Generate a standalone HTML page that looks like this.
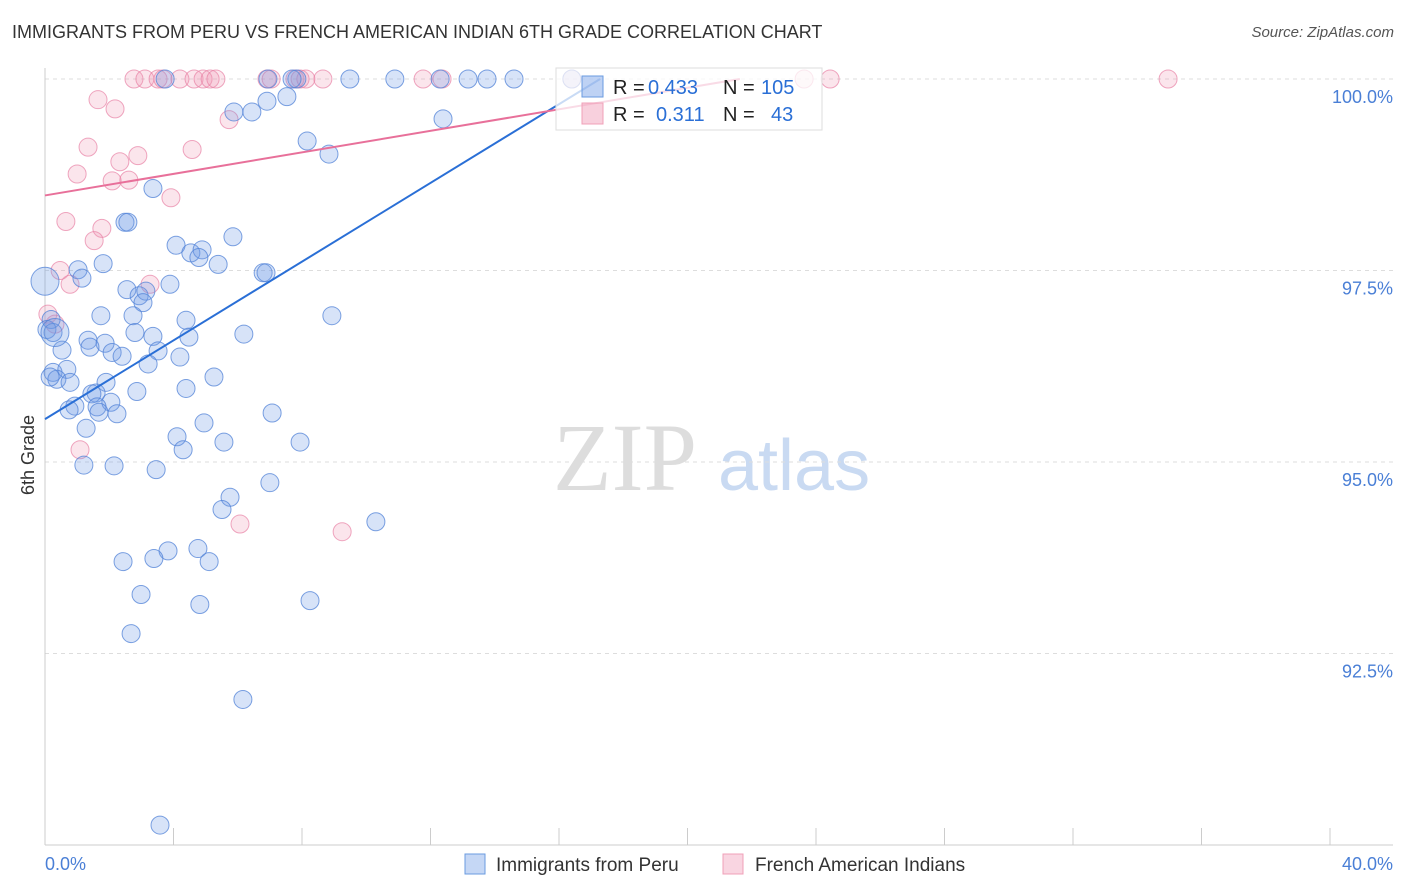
<!DOCTYPE html>
<html><head><meta charset="utf-8">
<style>
body{margin:0;background:#fff;font-family:"Liberation Sans",sans-serif;}
#wrap{position:relative;width:1406px;height:892px;overflow:hidden;}
.t{position:absolute;white-space:nowrap;}
</style></head>
<body>
<div id="wrap">
<div class="t" style="left:12px;top:22px;font-size:18px;color:#333;">IMMIGRANTS FROM PERU VS FRENCH AMERICAN INDIAN 6TH GRADE CORRELATION CHART</div>
<div class="t" style="right:12px;top:24px;font-size:15px;color:#555;font-style:italic;">Source: ZipAtlas.com</div>
<svg id="chart" width="1406" height="892" style="position:absolute;left:0;top:0"></svg>
</div>
<script>
const yTicks=[100,97.5,95,92.5];
const yTickLabels=["100.0%","97.5%","95.0%","92.5%"];
const xEndLabels=["0.0%","40.0%"];
const blueX=[3.74,6.94,7.84,7.69,9.49,10.89,12.30,13.17,13.76,14.60,16.40,5.88,6.44,6.91,7.53,12.39,8.16,8.84,3.36,2.49,2.58,5.85,4.08,4.54,4.89,4.79,5.39,6.79,6.88,1.81,1.03,1.15,2.55,2.93,3.14,3.89,3.05,1.74,2.74,4.39,8.93,0.19,0.06,0.25,1.34,1.87,2.80,3.36,4.48,6.19,0.53,1.40,2.09,2.40,3.52,4.20,3.21,0.25,0.68,0.37,0.78,1.90,5.26,4.39,2.86,1.59,1.46,0.93,2.05,1.62,0.75,1.68,2.24,4.95,7.07,1.28,4.11,4.30,5.57,7.94,1.21,2.15,3.46,7.00,5.76,5.51,10.30,3.83,4.76,2.43,3.39,5.11,2.99,4.82,8.25,2.68,6.16,3.58,0.16];
const blueY=[100,100,100,100,100,100,100,100,100,100,100,99.57,99.57,99.71,99.77,99.48,99.19,99.02,98.57,98.13,98.13,97.94,97.83,97.73,97.77,97.67,97.58,97.47,97.47,97.59,97.51,97.40,97.25,97.17,97.23,97.32,97.08,96.91,96.91,96.85,96.91,96.86,96.73,96.69,96.59,96.55,96.69,96.64,96.63,96.67,96.46,96.50,96.43,96.38,96.45,96.37,96.28,96.17,96.21,96.08,96.04,96.04,96.11,95.96,95.92,95.90,95.89,95.73,95.78,95.72,95.68,95.65,95.63,95.51,95.64,95.44,95.33,95.16,95.26,95.26,94.96,94.95,94.90,94.73,94.54,94.38,94.22,93.84,93.87,93.70,93.74,93.70,93.27,93.14,93.19,92.76,91.90,90.26,96.11];
const blueBigX=[0,0.31];
const blueBigY=[97.36,96.69];
const pinkX=[2.77,3.11,3.52,3.67,4.20,4.64,4.92,5.14,5.32,6.91,7.04,7.78,7.94,8.12,8.65,11.77,12.36,16.40,23.63,24.44,34.96,1.65,2.18,5.73,1.34,2.89,4.58,2.33,1.00,2.09,2.61,3.92,0.65,1.77,1.53,0.47,3.27,0.78,0.09,0.31,1.09,6.07,9.25];
const pinkY=[100,100,100,100,100,100,100,100,100,100,100,100,100,100,100,100,100,100,100,100,100,99.73,99.61,99.47,99.11,99.00,99.08,98.92,98.76,98.67,98.68,98.45,98.14,98.05,97.89,97.50,97.32,97.32,96.93,96.80,95.16,94.19,94.09];
const blueLine=[[0,95.56],[17.28,100]];
const pinkLine=[[0,98.48],[21.63,100]];

const svg=document.getElementById('chart');
const NS='http://www.w3.org/2000/svg';
const X0=45,X1=1330,Ytop=79,Ybot=845;
const sx=v=>X0+(v/40)*(X1-X0);
const sy=v=>Ytop+(100-v)/10*(Ybot-Ytop);
function mk(tag,attrs){const e=document.createElementNS(NS,tag);for(const k in attrs)e.setAttribute(k,attrs[k]);svg.appendChild(e);return e;}

// watermark
let w1=mk('text',{x:553,y:490,'font-size':96,fill:'#ddd','font-family':'Liberation Serif, serif'});w1.textContent='ZIP';


let w2=mk('text',{x:718,y:490,'font-size':72,fill:'#c9daf2','font-family':'Liberation Sans, sans-serif'});w2.textContent='atlas';



yTicks.forEach((t,i)=>{
  const g=mk('line',{x1:X0,x2:1393,y1:sy(t),y2:sy(t),stroke:'#ddd','stroke-dasharray':'4,4'});
  
  
  const l=mk('text',{x:1393,y:sy(t)+24,'text-anchor':'end','font-size':18,fill:'#4a7fd6'});
  l.textContent=yTickLabels[i];
  
  
});
let ax=mk('line',{x1:X0,x2:X0,y1:68,y2:Ybot,stroke:'#ccc'});


let bx=mk('line',{x1:X0,x2:1393,y1:Ybot,y2:Ybot,stroke:'#ccc'});


for(let i=0;i<=40;i+=4){
  const tk=mk('line',{x1:sx(i),x2:sx(i),y1:828,y2:Ybot,stroke:'#ccc'});
  
  
}
let xl0=mk('text',{x:45,y:870,'font-size':18,fill:'#4a7fd6'});xl0.textContent=xEndLabels[0];


let xl1=mk('text',{x:1393,y:870,'font-size':18,'text-anchor':'end',fill:'#4a7fd6'});xl1.textContent=xEndLabels[1];


let yt=mk('text',{x:34,y:455,'font-size':18,fill:'#333','text-anchor':'middle',transform:'rotate(-90 34 455)'});yt.textContent='6th Grade';



function pts(xs,ys,r,fill,stroke,name){
  xs.forEach((x,i)=>{
    const c=mk('circle',{cx:sx(x),cy:sy(ys[i]),r:r,fill:fill,stroke:stroke,'stroke-width':1});
    
    
  });
}
pts(pinkX,pinkY,9,'rgba(240,150,180,0.25)','rgba(232,130,165,0.7)','pink-point');
pts(blueX,blueY,9,'rgba(110,155,230,0.28)','rgba(80,130,215,0.75)','blue-point');
pts(blueBigX,blueBigY,14,'rgba(110,155,230,0.3)','rgba(80,130,215,0.75)','blue-point-large');

let bl=mk('line',{x1:sx(blueLine[0][0]),y1:sy(blueLine[0][1]),x2:sx(blueLine[1][0]),y2:sy(blueLine[1][1]),stroke:'#2a6fd6','stroke-width':2});


let pl=mk('line',{x1:sx(pinkLine[0][0]),y1:sy(pinkLine[0][1]),x2:sx(pinkLine[1][0]),y2:sy(pinkLine[1][1]),stroke:'#e8709a','stroke-width':2});



// stats legend
let lb=mk('rect',{x:556,y:68,width:266,height:62,fill:'rgba(255,255,255,0.75)',stroke:'#ddd'});


let s1=mk('rect',{x:582,y:76,width:21,height:21,fill:'rgba(110,155,230,0.45)',stroke:'#6a9be0'});


let s2=mk('rect',{x:582,y:103,width:21,height:21,fill:'rgba(240,150,180,0.45)',stroke:'#f0a0b8'});


function st(x,y,txt,col,name){const t=mk('text',{x:x,y:y,'font-size':20,fill:col});t.textContent=txt;

}
st(613,94,'R =','#222','r-label-blue');st(648,94,'0.433','#2a6fd6','r-value-blue');
st(723,94,'N =','#222','n-label-blue');st(761,94,'105','#2a6fd6','n-value-blue');
st(613,121,'R =','#222','r-label-pink');st(656,121,'0.311','#2a6fd6','r-value-pink');
st(723,121,'N =','#222','n-label-pink');st(771,121,'43','#2a6fd6','n-value-pink');

// bottom legend
let b1=mk('rect',{x:465,y:854,width:20,height:20,fill:'rgba(110,155,230,0.4)',stroke:'#6a9be0'});


let bt1=mk('text',{x:496,y:871,'font-size':19,fill:'#333'});bt1.textContent='Immigrants from Peru';


let b2=mk('rect',{x:723,y:854,width:20,height:20,fill:'rgba(240,150,180,0.4)',stroke:'#f0a0b8'});


let bt2=mk('text',{x:755,y:871,'font-size':19,fill:'#333'});bt2.textContent='French American Indians';


</script>
</body></html>
